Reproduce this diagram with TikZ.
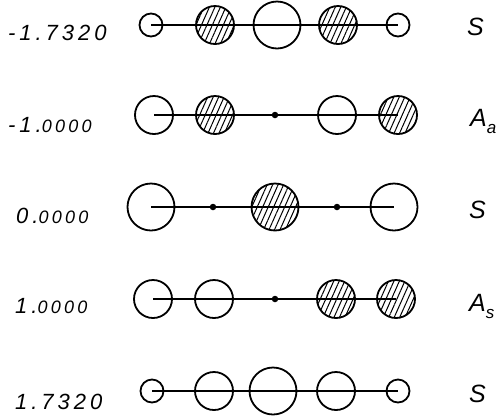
\documentclass[tikz,border=0pt]{standalone}
\usepackage{fontspec}
\setmainfont{Liberation Sans}
\newfontfamily\numfont[LetterSpace=18]{Liberation Sans}
\usetikzlibrary{patterns.meta}

% smaller digits after the decimal point
\newcommand\lowdig[1]{{\fontsize{18}{18}\selectfont #1}}
\newcommand\subsym[2]{#1\raisebox{-0.3em}{\fontsize{17}{17}\selectfont #2}}

\tikzset{
  orb/.style={circle, draw, line width=1.8pt, inner sep=0pt, minimum size=#1},
  sm/.style={orb=23pt},
  md/.style={orb=38pt},
  bg/.style={orb=47pt},
  hatch/.style={pattern={Lines[angle=66,distance=5pt,line width=1pt]}},
  junction/.style={circle, fill, inner sep=0pt, minimum size=6.5pt},
  bond/.style={line width=1.8pt},
  eig/.style={anchor=base west, inner sep=0pt, font=\numfont\itshape\fontsize{22}{22}\selectfont},
  sym/.style={anchor=base west, inner sep=0pt, font=\itshape\fontsize{25}{25}\selectfont},
}

\begin{document}
\begin{tikzpicture}[x=1pt,y=-1pt]
\useasboundingbox (0,0) rectangle (497,416);

% row 1: -1.7320
\node[sm]       (a1) at (151,25) {};
\node[md,hatch] (a2) at (215,25) {};
\node[bg]       (a3) at (277,25) {};
\node[md,hatch] (a4) at (338,25) {};
\node[sm]       (a5) at (398,25) {};
\draw[bond] (a1.center) -- (a5.center);
\node[eig] (la) at (8,40) {-1.7320};
\node[sym] (sa) at (467,35) {S};

% row 2: -1.0000
\node[md]       (b1) at (154,115) {};
\node[md,hatch] (b2) at (215,115) {};
\node[junction] (b3) at (275,115) {};
\node[md]       (b4) at (337,115) {};
\node[md,hatch] (b5) at (398,115) {};
\draw[bond] (b1.center) -- (b5.center);
\node[eig] (lb) at (8,132) {-1.\lowdig{0000}};
\node[sym] (sb) at (470,126) {\subsym{A}{a}};

% row 3: 0.0000
\node[bg]       (c1) at (151,207) {};
\node[junction] (c2) at (213,207) {};
\node[bg,hatch] (c3) at (275,207) {};
\node[junction] (c4) at (337,207) {};
\node[bg]       (c5) at (394,207) {};
\draw[bond] (c1.center) -- (c5.center);
\node[eig] (lc) at (16,223) {0.\lowdig{0000}};
\node[sym] (sc) at (469,218) {S};

% row 4: 1.0000
\node[md]       (d1) at (153,299) {};
\node[md]       (d2) at (214,299) {};
\node[junction] (d3) at (275,299) {};
\node[md,hatch] (d4) at (336,299) {};
\node[md,hatch] (d5) at (396,299) {};
\draw[bond] (d1.center) -- (d5.center);
\node[eig] (ld) at (15,313) {1.\lowdig{0000}};
\node[sym] (sd) at (469,311) {\subsym{A}{s}};

% row 5: 1.7320
\node[sm] (e1) at (152,391) {};
\node[md] (e2) at (214,391) {};
\node[bg] (e3) at (273,391) {};
\node[md] (e4) at (336,391) {};
\node[sm] (e5) at (398,391) {};
\draw[bond] (e1.center) -- (e5.center);
\node[eig] (le) at (15,409) {1.7320};
\node[sym] (se) at (469,402) {S};
\end{tikzpicture}
\end{document}
